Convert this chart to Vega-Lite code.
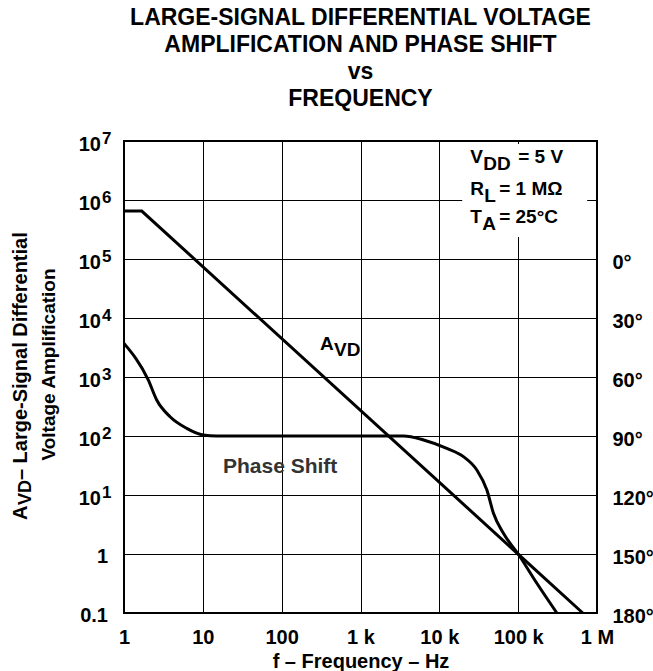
{
  "$schema": "https://vega.github.io/schema/vega-lite/v6.json",
  "width": 473,
  "height": 472,
  "autosize": {"type": "none"},
  "padding": {"left": 124, "top": 141, "right": 56, "bottom": 58},
  "background": "white",
  "config": {"font": "Liberation Sans", "view": {"stroke": "black", "strokeWidth": 2}},
  "title": {
    "text": ["LARGE-SIGNAL DIFFERENTIAL VOLTAGE", "AMPLIFICATION AND PHASE SHIFT", "vs", "FREQUENCY"],
    "fontSize": 23, "fontWeight": "bold", "color": "black", "lineHeight": 27, "offset": 19, "anchor": "middle", "frame": "group"
  },
  "datasets": {
    "box": [{"f1": 19500, "f2": 750000, "A1": 8900000, "A2": 236000}],
    "avd": [{"f": 1, "A": 650000}, {"f": 1.68, "A": 650000}, {"f": 660000, "A": 0.1}],
    "phase": [
      {"f": 1, "phase": 42.9}, {"f": 2.03, "phase": 61.5}, {"f": 2.6, "phase": 71.7}, {"f": 3.84, "phase": 80.2},
      {"f": 6.25, "phase": 86.1}, {"f": 10.1, "phase": 89.5}, {"f": 15, "phase": 90}, {"f": 3510, "phase": 90},
      {"f": 6310, "phase": 92}, {"f": 12450, "phase": 96.3}, {"f": 20200, "phase": 100.5}, {"f": 29900, "phase": 107.3},
      {"f": 40100, "phase": 117.5}, {"f": 48600, "phase": 129.3}, {"f": 65000, "phase": 139.5}, {"f": 100000, "phase": 150},
      {"f": 172600, "phase": 164.9}, {"f": 309700, "phase": 180}
    ],
    "notes": [
      {"f": 24600, "A": 4240000, "t": "V"},
      {"f": 35970, "A": 3225000, "t": "DD"},
      {"f": 100000, "A": 4240000, "t": "= 5 V"},
      {"f": 24600, "A": 1216000, "t": "R"},
      {"f": 37050, "A": 924700, "t": "L"},
      {"f": 57400, "A": 1216000, "t": "= 1 MΩ"},
      {"f": 24600, "A": 407400, "t": "T"},
      {"f": 34950, "A": 310500, "t": "A"},
      {"f": 57400, "A": 407400, "t": "= 25°C"},
      {"f": 307, "A": 2870, "t": "A"},
      {"f": 462, "A": 2270, "t": "VD"}
    ],
    "ps": [{"f": 18, "A": 23.6, "t": "Phase Shift"}],
    "ytitle": [{"A": 3.77, "t": "A"}, {"A": 17.9, "t": " – Large-Signal Differential"}],
    "ytitlesub": [{"A": 6.77, "t": "VD"}],
    "ypow": [
      {"A": 10, "e": "1"}, {"A": 100, "e": "2"}, {"A": 1000, "e": "3"}, {"A": 10000, "e": "4"},
      {"A": 100000, "e": "5"}, {"A": 1000000, "e": "6"}, {"A": 10000000, "e": "7"}
    ],
    "yplain": [{"A": 0.1, "t": "0.1"}, {"A": 1, "t": "1"}]
  },
  "layer": [
    {
      "layer": [
        {
          "data": {"name": "box"},
          "mark": {"type": "rect", "color": "white"},
          "encoding": {
            "x": {
              "field": "f1", "type": "quantitative",
              "scale": {"type": "log", "domain": [1, 1000000]},
              "axis": {
                "values": [1, 10, 100, 1000, 10000, 100000, 1000000],
                "grid": true, "gridColor": "black", "gridOpacity": 1, "gridWidth": 1,
                "ticks": false, "domain": false, "labelFlush": false, "labelOverlap": false,
                "labelFontSize": 20, "labelFontWeight": "bold", "labelColor": "black", "labelPadding": 14,
                "labelExpr": "datum.value >= 1000000 ? '1 M' : (datum.value >= 1000 ? (datum.value / 1000) + ' k' : datum.value + '')",
                "title": "f – Frequency – Hz", "titleFontSize": 20, "titleFontWeight": "bold", "titleColor": "black", "titlePadding": 4
              }
            },
            "x2": {"field": "f2"},
            "y": {
              "field": "A1", "type": "quantitative",
              "scale": {"type": "log", "domain": [0.1, 10000000]},
              "axis": {
                "orient": "left",
                "values": [0.1, 1, 10, 100, 1000, 10000, 100000, 1000000, 10000000],
                "grid": true, "gridColor": "black", "gridOpacity": 1, "gridWidth": 1,
                "labels": false, "ticks": false, "domain": false,
                "title": "Voltage Amplification",
                "titleFontSize": 19, "titleFontWeight": "bold", "titleColor": "black",
                "titlePadding": 66, "titleY": 223
              }
            },
            "y2": {"field": "A2"}
          }
        },
        {
          "data": {"name": "avd"},
          "mark": {"type": "line", "color": "black", "strokeWidth": 3},
          "encoding": {
            "x": {"field": "f", "type": "quantitative"},
            "y": {"field": "A", "type": "quantitative"}
          }
        },
        {
          "data": {"name": "notes"},
          "mark": {"type": "text", "align": "left", "baseline": "alphabetic", "fontSize": 19, "fontWeight": "bold", "color": "black"},
          "encoding": {
            "x": {"field": "f", "type": "quantitative"},
            "y": {"field": "A", "type": "quantitative"},
            "text": {"field": "t"}
          }
        },
        {
          "data": {"name": "ps"},
          "mark": {"type": "text", "align": "left", "baseline": "alphabetic", "fontSize": 21, "fontWeight": "bold", "color": "#333333"},
          "encoding": {
            "x": {"field": "f", "type": "quantitative"},
            "y": {"field": "A", "type": "quantitative"},
            "text": {"field": "t"}
          }
        },
        {
          "data": {"name": "ytitle"},
          "mark": {"type": "text", "align": "left", "baseline": "middle", "angle": 270, "fontSize": 20, "fontWeight": "bold", "color": "black", "dy": -103},
          "encoding": {
            "x": {"datum": 1, "type": "quantitative"},
            "y": {"field": "A", "type": "quantitative"},
            "text": {"field": "t"}
          }
        },
        {
          "data": {"name": "ytitlesub"},
          "mark": {"type": "text", "align": "left", "baseline": "middle", "angle": 270, "fontSize": 18, "fontWeight": "bold", "color": "black", "dy": -98},
          "encoding": {
            "x": {"datum": 1, "type": "quantitative"},
            "y": {"field": "A", "type": "quantitative"},
            "text": {"field": "t"}
          }
        },
        {
          "data": {"name": "ypow"},
          "mark": {"type": "text", "align": "right", "baseline": "middle", "fontSize": 20, "fontWeight": "bold", "color": "black", "dx": -23, "dy": 4},
          "encoding": {
            "x": {"datum": 1, "type": "quantitative"},
            "y": {"field": "A", "type": "quantitative"},
            "text": {"value": "10"}
          }
        },
        {
          "data": {"name": "ypow"},
          "mark": {"type": "text", "align": "left", "baseline": "middle", "fontSize": 17, "fontWeight": "bold", "color": "black", "dx": -22, "dy": -2},
          "encoding": {
            "x": {"datum": 1, "type": "quantitative"},
            "y": {"field": "A", "type": "quantitative"},
            "text": {"field": "e"}
          }
        },
        {
          "data": {"name": "yplain"},
          "mark": {"type": "text", "align": "right", "baseline": "middle", "fontSize": 20, "fontWeight": "bold", "color": "black", "dx": -16, "dy": 3},
          "encoding": {
            "x": {"datum": 1, "type": "quantitative"},
            "y": {"field": "A", "type": "quantitative"},
            "text": {"field": "t"}
          }
        }
      ]
    },
    {
      "data": {"name": "phase"},
      "mark": {"type": "line", "interpolate": "monotone", "color": "black", "strokeWidth": 3},
      "encoding": {
        "x": {"field": "f", "type": "quantitative"},
        "y": {
          "field": "phase", "type": "quantitative",
          "scale": {"domain": [-60, 180], "reverse": true, "zero": false},
          "axis": {
            "orient": "right", "values": [0, 30, 60, 90, 120, 150, 180],
            "labelExpr": "datum.value + '°'",
            "grid": false, "ticks": false, "domain": false,
            "labelPadding": 15, "labelFontSize": 20, "labelFontWeight": "bold", "labelColor": "black",
            "labelAlign": "left", "labelBaseline": "middle", "labelOffset": 3,
            "labelOverlap": false, "labelFlush": false, "title": null
          }
        }
      }
    }
  ],
  "resolve": {"scale": {"y": "independent"}, "axis": {"y": "independent"}}
}
